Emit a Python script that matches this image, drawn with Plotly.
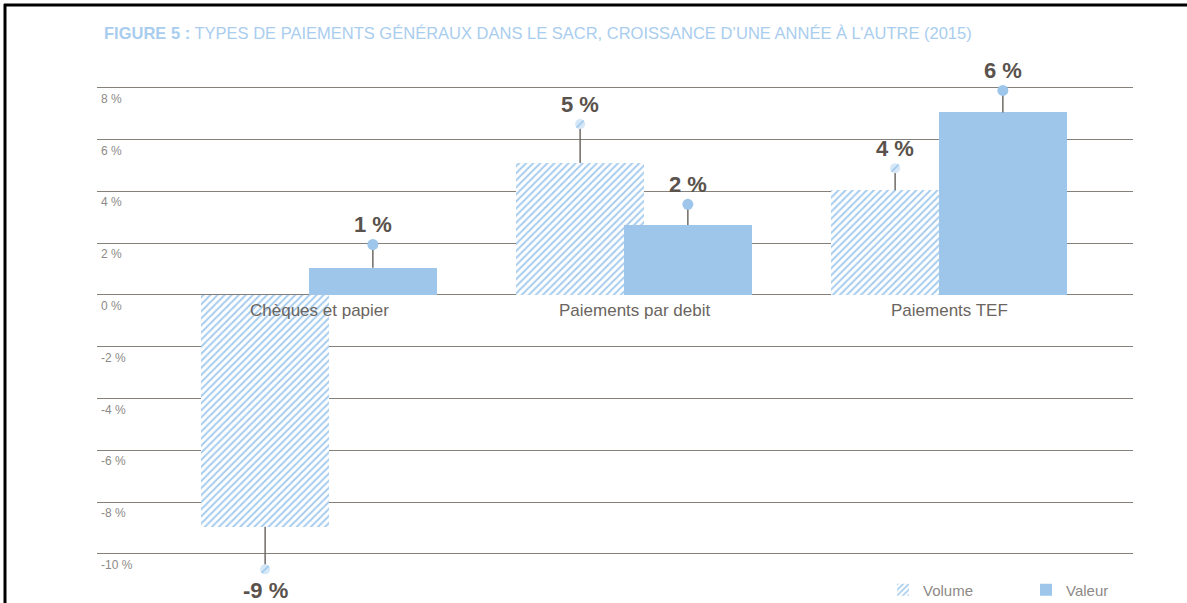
import plotly.graph_objects as go

# ---------------- data ----------------
categories = ["Chèques et papier", "Paiements par debit", "Paiements TEF"]
volume = [-8.95, 5.1, 4.05]          # bar heights (%)
valeur = [1.05, 2.7, 7.05]
volume_tip = [-10.6, 6.6, 4.9]       # lollipop marker positions (%)
valeur_tip = [1.95, 3.5, 7.9]
volume_labels = ["-9 %", "5 %", "4 %"]
valeur_labels = ["1 %", "2 %", "6 %"]
ytick_vals = [8, 6, 4, 2, 0, -2, -4, -6, -8, -10]
ytick_text = ["8 %", "6 %", "4 %", "2 %", "0 %", "-2 %", "-4 %", "-6 %", "-8 %", "-10 %"]
title_text = "FIGURE 5 : TYPES DE PAIEMENTS GÉNÉRAUX DANS LE SACR, CROISSANCE D’UNE ANNÉE À L’AUTRE (2015)"

# ---------------- layout geometry ----------------
W, H = 1187, 603
L, R, T, B = 97, 54, 62, 0
PW, PH = W - L - R, H - T - B

def px_x(p):
    return (p - L) / PW

def px_y(p):
    return (H - B - p) / PH

BAR_W = 0.406
SHIFT = 0.171
x_groups = list(range(len(categories)))
x_vol = [g - SHIFT for g in x_groups]
x_val = [g + SHIFT for g in x_groups]

BLUE = "#9dc6ea"
HATCH = "#a6ccee"
STEM = "#6e6a66"
LABEL = "#5a524c"
GRID = "#85807a"
GREY_TXT = "#8d8a87"
FONT = "Liberation Sans, Arial"

fig = go.Figure()

fig.add_trace(go.Bar(
    x=x_groups, y=volume, name="Volume", width=BAR_W, offset=-SHIFT - BAR_W / 2,
    marker=dict(color="white", line=dict(width=0),
                pattern=dict(shape="/", fgcolor=HATCH, bgcolor="white", size=5, solidity=0.4,
                             fillmode="replace")),
))
fig.add_trace(go.Bar(
    x=x_groups, y=valeur, name="Valeur", width=BAR_W, offset=SHIFT - BAR_W / 2,
    marker=dict(color=BLUE, line=dict(width=0)),
))

# stems
for xs, base, tip in ((x_vol, volume, volume_tip), (x_val, valeur, valeur_tip)):
    for xi, b, t in zip(xs, base, tip):
        fig.add_trace(go.Scatter(x=[xi, xi], y=[b, t], mode="lines",
                                 line=dict(color=STEM, width=1.5), showlegend=False,
                                 hoverinfo="skip"))

# volume tip markers (hatched ellipse look)
fig.add_trace(go.Scatter(x=x_vol, y=volume_tip, mode="markers", showlegend=False,
                         marker=dict(symbol="circle", size=10, color="#d6e8f7", line=dict(width=0))))
fig.add_trace(go.Scatter(x=x_vol, y=volume_tip, mode="markers", showlegend=False,
                         marker=dict(symbol="line-ne", size=7, line=dict(color=HATCH, width=2))))
# valeur tip markers
fig.add_trace(go.Scatter(x=x_val, y=valeur_tip, mode="markers", showlegend=False,
                         marker=dict(symbol="circle", size=11, color=BLUE, line=dict(width=0))))

annotations = []
# value labels
for xs, tips, labels in ((x_vol, volume_tip, volume_labels), (x_val, valeur_tip, valeur_labels)):
    for xi, t, lab in zip(xs, tips, labels):
        neg = t < 0
        annotations.append(dict(x=xi, y=t, text=f"<b>{lab}</b>", showarrow=False,
                                xref="x", yref="y", yanchor="top" if neg else "bottom",
                                yshift=-7 if neg else 5,
                                font=dict(size=22, color=LABEL, family=FONT)))
# category labels
for g, c in zip(x_groups, categories):
    annotations.append(dict(x=g, y=0, text=c, showarrow=False, xref="x", yref="y",
                            yanchor="top", yshift=-4,
                            font=dict(size=17, color="#6a6560", family=FONT)))
# y tick labels (under each gridline, inside the plot)
for v, t in zip(ytick_vals, ytick_text):
    annotations.append(dict(x=px_x(99), y=v, text=t, showarrow=False, xref="paper", yref="y",
                            xanchor="left", yanchor="top", yshift=-2,
                            font=dict(size=12, color=GREY_TXT, family=FONT)))
# title
annotations.append(dict(x=px_x(102), y=px_y(33), text=f"<b>{title_text[:10]}</b>{title_text[10:]}",
                        showarrow=False, xref="paper", yref="paper", xanchor="left", yanchor="middle",
                        font=dict(size=16.5, color="#a9cdee", family=FONT)))

shapes = [
    dict(type="line", xref="paper", yref="paper", x0=px_x(4), x1=px_x(W + 5), y0=px_y(5), y1=px_y(5),
         line=dict(color="black", width=3)),
    dict(type="line", xref="paper", yref="paper", x0=px_x(5), x1=px_x(5), y0=px_y(4), y1=px_y(H + 5),
         line=dict(color="black", width=3)),
]

fig.update_layout(
    width=W, height=H, margin=dict(l=L, r=R, t=T, b=B, autoexpand=False),
    paper_bgcolor="white", plot_bgcolor="white",
    barmode="overlay", bargap=0,
    xaxis=dict(range=[(97 - 319) / 315, (1133 - 319) / 315], showgrid=False,
               zeroline=False, showticklabels=False, showline=False),
    yaxis=dict(range=[-11.9, 9.0], tickvals=ytick_vals, showticklabels=False, showgrid=True,
               gridcolor=GRID, gridwidth=1, zeroline=False, showline=False),
    legend=dict(orientation="h", x=px_x(883), y=px_y(590), xanchor="left", yanchor="middle",
                font=dict(size=15, color=GREY_TXT, family=FONT),
                entrywidth=98, bgcolor="rgba(0,0,0,0)", itemsizing="constant"),
    annotations=annotations, shapes=shapes, showlegend=True,
)

fig.write_html("out.html", config={"displayModeBar": False},
               post_script="document.body.style.margin='0';")
